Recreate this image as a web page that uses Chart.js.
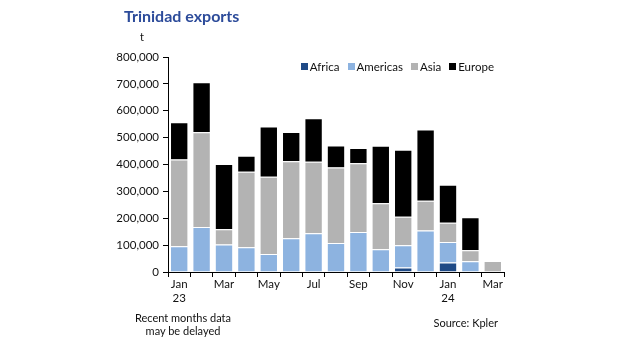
<!DOCTYPE html>
<html lang="en">
<head>
    <meta charset="UTF-8">
    <title>Trinidad exports</title>
    <script src="https://cdn.jsdelivr.net/npm/chart.js"></script>
    <style>
        body {
            margin: 0;
            background: #ffffff;
            font-family: 'Lato', 'Open Sans', sans-serif;
        }
        .wrap {
            position: relative;
            width: 626px;
            height: 340px;
        }
        .title {
            position: absolute;
            left: 124px;
            top: 6px;
            font-size: 16px;
            font-weight: bold;
            color: #2c4b9a;
        }
        .unit {
            position: absolute;
            left: 140px;
            top: 30px;
            font-size: 11px;
            color: #111;
        }
        .note {
            position: absolute;
            left: 131px;
            top: 311px;
            width: 104px;
            text-align: center;
            font-size: 11px;
            line-height: 13px;
            color: #111;
        }
        .source {
            position: absolute;
            right: 128px;
            top: 316px;
            font-size: 11px;
            color: #111;
        }
        .legend {
            position: absolute;
            right: 132px;
            top: 60px;
            display: flex;
            font-size: 11.5px;
            color: #111;
        }
        .legend span {
            display: flex;
            align-items: center;
            margin-left: 8px;
        }
        .legend i {
            display: inline-block;
            width: 7px;
            height: 7px;
            margin-right: 2px;
        }
        canvas {
            position: absolute;
            left: 0;
            top: 0;
        }
    </style>
</head>
<body>
    <div class="wrap">
        <canvas id="exportsChart" width="626" height="340"></canvas>
        <div class="title">Trinidad exports</div>
        <div class="unit">t</div>
        <div class="legend" id="legend"></div>
        <div class="note">Recent months data may be delayed</div>
        <div class="source">Source: Kpler</div>
    </div>

    <script>
        // Monthly exports by destination, tonnes
        const months = [['Jan', '23'], 'Feb', 'Mar', 'Apr', 'May', 'Jun', 'Jul', 'Aug', 'Sep', 'Oct', 'Nov', 'Dec', ['Jan', '24'], 'Feb', 'Mar'];
        const africa   = [0, 0, 0, 0, 0, 0, 0, 0, 0, 0, 17000, 0, 35000, 0, 0];
        const americas = [96000, 167000, 102000, 92000, 67000, 126000, 144000, 108000, 149000, 85000, 83000, 154000, 77000, 40000, 0];
        const asia     = [323000, 353000, 57000, 281000, 287000, 286000, 266000, 281000, 256000, 171000, 106000, 111000, 71000, 41000, 41000];
        const europe   = [138000, 186000, 243000, 60000, 187000, 109000, 162000, 82000, 56000, 214000, 249000, 265000, 142000, 123000, 0];
        const yTicks = [0, 100000, 200000, 300000, 400000, 500000, 600000, 700000, 800000];

        const ctx = document.getElementById('exportsChart').getContext('2d');

        const series = [
            { label: 'Africa', data: africa, backgroundColor: '#1f4a86' },
            { label: 'Americas', data: americas, backgroundColor: '#8db3e0' },
            { label: 'Asia', data: asia, backgroundColor: '#b3b3b3' },
            { label: 'Europe', data: europe, backgroundColor: '#000000' }
        ];

        // Legend row above the bars
        const legend = document.getElementById('legend');
        series.forEach(s => {
            const item = document.createElement('span');
            const box = document.createElement('i');
            box.style.background = s.backgroundColor;
            item.appendChild(box);
            item.appendChild(document.createTextNode(s.label));
            legend.appendChild(item);
        });

        new Chart(ctx, {
            type: 'bar',
            data: {
                labels: months,
                datasets: series.map(s => ({
                    ...s,
                    borderColor: '#ffffff',
                    borderWidth: 1,
                    borderSkipped: 'bottom',
                    barPercentage: 0.82,
                    categoryPercentage: 1.0
                }))
            },
            options: {
                responsive: false,
                animation: false,
                layout: {
                    padding: { top: 57, right: 122, bottom: 0, left: 0 }
                },
                plugins: {
                    legend: { display: false },
                    tooltip: { enabled: false }
                },
                scales: {
                    x: {
                        stacked: true,
                        grid: {
                            offset: true,
                            drawOnChartArea: false,
                            drawTicks: true,
                            tickLength: 5,
                            color: '#000'
                        },
                        border: { color: '#000', width: 1 },
                        ticks: {
                            autoSkip: false,
                            maxRotation: 0,
                            padding: 1,
                            color: '#111',
                            font: { family: 'Lato', size: 11.5, lineHeight: 1.15 },
                            callback: function (value, index) {
                                return index % 2 === 0 ? months[index] : '';
                            }
                        },
                        afterFit: function (scale) {
                            scale.height = 68;
                        }
                    },
                    y: {
                        stacked: true,
                        min: 0,
                        max: 800000,
                        afterBuildTicks: function (scale) {
                            scale.ticks = yTicks.map(v => ({ value: v }));
                        },
                        grid: {
                            drawOnChartArea: false,
                            drawTicks: true,
                            tickLength: 5,
                            color: '#000'
                        },
                        border: { color: '#000', width: 1 },
                        ticks: {
                            padding: 4,
                            color: '#111',
                            font: { family: 'Lato', size: 11.5 },
                            callback: v => v.toLocaleString('en-US')
                        },
                        afterFit: function (scale) {
                            scale.width = 168;
                        }
                    }
                }
            }
        });
    </script>
</body>
</html>
